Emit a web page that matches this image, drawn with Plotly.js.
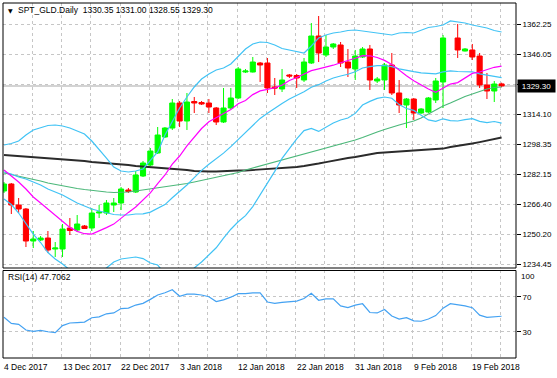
<!DOCTYPE html>
<html><head><meta charset="utf-8">
<script src="https://cdn.plot.ly/plotly-3.0.1.min.js"></script>
<style>html,body{margin:0;padding:0;background:#fff;} #chart{width:557px;height:378px;}</style>
</head><body><div id="chart"></div>
<script>
const dates = ['4 Dec 2017','5 Dec 2017','6 Dec 2017','7 Dec 2017','8 Dec 2017','10 Dec 2017','11 Dec 2017','12 Dec 2017','13 Dec 2017','14 Dec 2017',
 '15 Dec 2017','17 Dec 2017','18 Dec 2017','19 Dec 2017','20 Dec 2017','21 Dec 2017','22 Dec 2017','24 Dec 2017','26 Dec 2017','27 Dec 2017',
 '28 Dec 2017','29 Dec 2017','31 Dec 2017','2 Jan 2018','3 Jan 2018','4 Jan 2018','5 Jan 2018','7 Jan 2018','8 Jan 2018','9 Jan 2018',
 '10 Jan 2018','11 Jan 2018','12 Jan 2018','14 Jan 2018','15 Jan 2018','16 Jan 2018','17 Jan 2018','18 Jan 2018','19 Jan 2018','21 Jan 2018',
 '22 Jan 2018','23 Jan 2018','24 Jan 2018','25 Jan 2018','26 Jan 2018','28 Jan 2018','29 Jan 2018','30 Jan 2018','31 Jan 2018','1 Feb 2018',
 '2 Feb 2018','4 Feb 2018','5 Feb 2018','6 Feb 2018','7 Feb 2018','8 Feb 2018','9 Feb 2018','11 Feb 2018','12 Feb 2018','13 Feb 2018',
 '14 Feb 2018','15 Feb 2018','16 Feb 2018','18 Feb 2018','19 Feb 2018','20 Feb 2018','21 Feb 2018','22 Feb 2018','23 Feb 2018'];

const open = [1273.32,1277.05,1265.87,1263.74,1246.70,1247.23,1248.29,1242.44,1242.44,1253.62,
 1252.56,1254.69,1253.62,1261.61,1261.61,1265.87,1266.93,1273.86,1272.79,1281.31,
 1287.17,1293.56,1302.08,1306.87,1320.18,1310.60,1320.98,1320.45,1320.18,1317.52,
 1310.07,1317.52,1322.85,1336.69,1336.69,1341.48,1341.48,1328.70,1327.64,1335.09,
 1334.83,1332.43,1341.48,1355.86,1345.74,1350.00,1351.07,1342.00,1338.29,1344.68,
 1348.94,1331.90,1332.43,1340.42,1325.51,1319.12,1322.31,1314.86,1315.39,1321.78,
 1331.37,null,1354.80,1347.87,1348.41,1345.21,1329.77,1326.57,1330.35];
const high = [1278.11,1277.58,1269.59,1264.27,1252.02,1249.36,1252.02,1246.16,1255.75,1258.94,
 1260.54,1255.20,1264.27,1265.87,1268.53,1269.59,1275.45,1274.92,1283.97,1289.30,
 1296.22,1307.40,1307.40,1322.31,1321.25,1325.51,1323.38,1321.25,1322.31,1318.05,
 1328.17,1328.17,1339.35,1338.29,1344.68,1342.00,1344.15,1333.50,1338.29,1335.62,
 1335.62,1344.15,1362.78,1366.51,1356.39,1352.13,1352.67,1348.94,1348.41,1350.00,
 1351.07,1334.03,1341.48,1346.81,1332.43,1322.85,1322.85,1317.52,1323.38,1333.50,
 1356.39,null,1362.25,1349.47,1351.60,1346.81,1336.16,1331.90,1331.00];
const low = [1272.26,1261.07,1261.61,1243.50,1242.97,1246.70,1240.31,1238.18,1238.18,1249.89,
 1251.49,1253.09,1252.02,1258.94,1260.54,1262.14,1263.20,1272.26,1272.26,1280.78,
 1286.64,1293.02,1301.55,1305.81,1307.40,1305.81,1314.86,1319.12,1314.86,1308.47,
 1309.53,1316.99,1322.31,1336.16,1336.42,1331.37,1325.51,1324.44,1326.04,1333.50,
 1328.17,1331.37,1340.95,1342.00,1344.68,1348.94,1339.35,1334.03,1332.43,1344.15,
 1327.11,1330.83,1327.11,1324.44,1314.86,1306.87,1311.13,1314.33,1314.86,1320.18,
 1317.52,null,1344.15,1347.61,1343.08,1328.17,1322.31,1320.71,1328.55];
const close = [1277.05,1265.87,1263.74,1246.70,1247.76,1248.29,1241.90,1242.97,1253.09,1252.29,
 1255.75,1253.35,1261.61,1262.14,1266.93,1266.93,1274.39,1273.06,1281.84,1288.23,
 1294.62,1303.14,1306.87,1320.18,1310.60,1320.71,1320.18,1319.65,1318.05,1310.07,
 1317.52,1322.85,1338.29,1337.22,1342.00,1340.42,1328.17,1328.17,1332.43,1334.56,
 1333.50,1342.00,1355.86,1346.81,1350.00,1351.60,1341.48,1338.82,1345.21,1348.94,
 1332.43,1332.96,1340.42,1325.51,1319.12,1322.31,1314.86,1316.99,1322.85,1331.90,
 1354.80,null,1348.41,1348.94,1344.68,1329.77,1326.57,1330.30,1329.30];

const bbUpper = [1297.82,1298.62,1299.95,1303.14,1305.80,1307.14,1308.20,1308.47,1307.93,1306.87,
 1305.27,1303.67,1299.95,1295.69,1290.89,1286.10,1283.97,1283.44,1283.97,1285.04,
 1289.30,1294.09,1303.14,1310.60,1317.52,1323.38,1328.70,1332.96,1335.62,1337.75,
 1338.82,1340.95,1344.68,1348.94,1351.60,1352.66,1352.40,1351.07,1349.20,1348.40,
 1347.34,1346.81,1350.53,1354.79,1356.39,1357.46,1357.99,1358.79,1359.05,1358.52,
 1357.99,1357.46,1356.92,1356.39,1357.46,1357.72,1357.46,1359.05,1360.39,1360.92,
 1361.72,1363.85,1363.31,1362.78,1361.72,1360.92,1360.12,1358.79,1357.99];
const bbMiddle = [1283.44,1282.37,1280.78,1279.71,1278.11,1276.52,1274.39,1272.79,1271.19,1269.06,
 1266.93,1265.33,1263.74,1262.67,1261.61,1260.81,1260.54,1260.54,1261.07,1261.18,
 1262.09,1263.95,1266.08,1269.75,1272.90,1276.52,1280.46,1284.29,1287.54,1290.42,
 1293.50,1296.97,1300.80,1304.58,1308.31,1311.98,1314.70,1317.41,1319.97,1322.31,
 1324.23,1326.15,1328.60,1329.93,1331.90,1333.49,1334.56,1335.47,1336.85,1338.82,
 1339.51,1340.04,1340.15,1339.57,1338.39,1337.49,1336.85,1336.26,1335.78,1335.68,
 1336.74,1337.33,1336.96,1337.06,1336.80,1335.68,1334.93,1334.56,1333.71];
const bbLower = [1269.06,1266.13,1261.61,1256.28,1250.42,1245.90,1240.57,1237.11,1234.45,1231.25,
 1228.59,1226.99,1227.53,1229.66,1232.32,1235.51,1237.11,1237.64,1238.18,1237.33,
 1234.98,1233.92,1229.12,1228.91,1228.27,1229.66,1232.32,1235.51,1239.46,1243.08,
 1248.19,1252.98,1256.92,1260.22,1265.02,1271.30,1277.05,1283.76,1290.74,1296.22,
 1301.12,1305.49,1306.66,1305.06,1307.40,1309.53,1311.13,1312.19,1314.64,1319.12,
 1321.03,1322.63,1323.38,1322.74,1319.33,1317.25,1316.24,1313.47,1311.18,1310.44,
 1311.77,1310.81,1310.60,1311.34,1311.88,1310.44,1309.75,1310.33,1309.43];
const maFast = [1284.50,1281.31,1278.11,1274.39,1270.13,1266.93,1263.74,1260.54,1257.35,1253.94,
 1251.81,1250.58,1250.37,1251.92,1253.83,1255.70,1258.94,1261.93,1264.80,1268.42,
 1272.31,1277.26,1281.84,1287.59,1291.96,1297.34,1301.92,1306.60,1310.22,1312.41,
 1314.70,1316.67,1319.81,1321.51,1324.66,1326.63,1327.42,1328.28,1329.71,1332.16,
 1333.76,1335.68,1337.44,1338.39,1339.19,1340.31,1341.64,1342.71,1343.99,1345.42,
 1345.32,1344.41,1342.87,1340.74,1337.65,1334.72,1332.06,1329.87,1327.64,1325.93,
 1328.17,1330.25,1331.05,1333.39,1335.94,1336.69,1337.86,1339.19,1339.83];
const maMid = [1282.91,1282.11,1281.31,1280.51,1279.71,1278.65,1277.58,1276.78,1275.98,1275.19,
 1274.65,1274.12,1273.59,1273.06,1272.79,1272.52,1272.52,1272.79,1273.32,1273.85,
 1274.39,1274.92,1275.45,1275.98,1276.52,1277.32,1278.11,1278.91,1279.71,1280.51,
 1281.31,1282.11,1283.17,1284.50,1285.57,1286.63,1287.70,1288.50,1289.56,1290.63,
 1291.96,1293.02,1294.09,1295.15,1296.22,1297.28,1298.35,1299.41,1300.48,1301.81,
 1303.41,1304.74,1306.07,1307.40,1308.47,1309.53,1310.60,1312.19,1314.32,1316.45,
 1318.58,1320.18,1322.05,1323.64,1324.97,1326.31,1327.64,1328.44,1328.70];
const maSlow = [1292.49,1292.23,1291.96,1291.69,1291.43,1291.16,1290.89,1290.63,1290.36,1289.83,
 1289.56,1289.30,1288.76,1288.50,1288.23,1287.70,1287.43,1287.17,1286.63,1286.37,
 1286.10,1285.84,1285.30,1285.04,1284.77,1284.50,1283.97,1283.71,1283.71,1283.71,
 1283.97,1283.97,1284.24,1284.24,1284.50,1284.50,1284.77,1285.04,1285.30,1285.57,
 1286.10,1286.63,1287.17,1287.97,1288.76,1289.56,1290.36,1290.89,1291.43,1292.23,
 1293.02,1293.56,1293.82,1294.09,1294.36,1294.62,1294.62,1294.89,1295.15,1295.42,
 1295.95,1296.75,1297.28,1297.82,1298.62,1299.41,1300.21,1301.01,1301.81];
const rsi = [46.5,39.5,38.5,32,30.5,31.5,30,29,37,40,
 40.5,41,46,47,50.5,51.5,56.5,57,60.5,62.5,
 67,72,74.5,78,70.5,73,73,72,70,64.5,
 66.5,69.5,73.5,73.5,74.5,74.5,64,62.5,63.5,64.5,
 65,68,74,66,67.5,67.5,59.5,57.5,60.5,62,
 52,51.5,55.5,48,44.5,46,42.5,42,44.5,48.5,
 57,62,61,59.5,57.5,49,46.5,47.5,47.7062];

const priceTickVals = [1234.45,1250.20,1266.40,1282.15,1298.35,1314.10,1330.15,1346.05,1362.25];
const priceTickText = ['1234.45','1250.20','1266.40','1282.15','1298.35','1314.10','','1346.05','1362.25'];
const rsiTickVals = [30,70];
const rsiTickText = ['30','70'];
const dateLabelIdx = [0,8,16,24,32,40,48,56,64];
const symbol = 'SPT_GLD,Daily';
const lastBar = {o:'1330.35', h:'1331.00', l:'1328.55', c:'1329.30'};
const rsiLabel = 'RSI(14) 47.7062';

const FONT = 'Liberation Sans, Arial, sans-serif';
const xs = dates.map((d,i)=>i);
const GRID = '#c6c6c6';
const BLUE = '#41c3f5';
const X_MIN = -0.137;

const lineTrace = (y, color, width, yaxis) => ({type:'scatter', mode:'lines', x:xs, y:y, xaxis:'x', yaxis:yaxis||'y',
  line:{color:color, width:width}, hoverinfo:'skip', showlegend:false});

const traces = [
  {type:'candlestick', x:xs, open:open, high:high, low:low, close:close, xaxis:'x', yaxis:'y',
   increasing:{line:{color:'#00ff00', width:1}, fillcolor:'#00ff00'},
   decreasing:{line:{color:'#ff0000', width:1}, fillcolor:'#ff0000'},
   whiskerwidth:0, hoverinfo:'skip', showlegend:false},
  lineTrace(maSlow, '#2b2b2b', 1.8),
  lineTrace(maMid, '#4cb87a', 1.2),
  lineTrace(bbUpper, BLUE, 1.2),
  lineTrace(bbMiddle, BLUE, 1.2),
  lineTrace(bbLower, BLUE, 1.2),
  lineTrace(maFast, '#ff00ff', 1.2),
  lineTrace(rsi, '#44a2f2', 1.2, 'y2')
];

const gridVals = [];
for (let k = 1; k * 4 < dates.length + 1; k++) gridVals.push(k * 4 - 0.14);

const annotations = [
  {xref:'paper', yref:'paper', x:0, y:1, xanchor:'left', yanchor:'middle', xshift:3, yshift:-7,
   text:'\u25BC', showarrow:false, font:{family:'DejaVu Sans', size:6, color:'#000'}},
  {xref:'paper', yref:'paper', x:0, y:1, xanchor:'left', yanchor:'middle', xshift:13, yshift:-7,
   text: symbol.replace(',', '.') + '\u00a0\u00a0' + [lastBar.o,lastBar.h,lastBar.l,lastBar.c].join(' '),
   showarrow:false, font:{family:FONT, size:8.5, color:'#000'}},
  {xref:'paper', yref:'y2 domain', x:0, y:1, xanchor:'left', yanchor:'middle', xshift:3, yshift:-7,
   text: rsiLabel, showarrow:false, font:{family:FONT, size:8.5, color:'#000'}},
  {xref:'paper', yref:'y2 domain', x:1, y:1, xanchor:'left', yanchor:'middle', xshift:3, yshift:-6,
   text:'100', showarrow:false, font:{family:FONT, size:8, color:'#000'}},
  {xref:'paper', yref:'y', x:1, y:1329.30, xanchor:'left', yanchor:'middle', xshift:1,
   text: lastBar.c, showarrow:false, bgcolor:'#000', borderpad:1, width:35, height:10,
   font:{family:FONT, size:8, color:'#fff'}}
];
dateLabelIdx.forEach(i => annotations.push({
  xref:'x', yref:'paper', x:Math.max(i - 0.14, X_MIN + 0.001), y:0, xanchor:'left', yanchor:'middle', yshift:-9, xshift:-1,
  text: dates[i], showarrow:false, font:{family:FONT, size:8.5, color:'#000'}
}));

const shapes = [
  {type:'line', xref:'paper', yref:'y', x0:0, x1:1, y0:1329.30, y1:1329.30, layer:'between',
   line:{color:'#c4c4c4', width:1.5}},
  {type:'rect', xref:'paper', yref:'y domain', x0:0, x1:1, y0:0, y1:1, line:{color:'#000', width:1}},
  {type:'rect', xref:'paper', yref:'y2 domain', x0:0, x1:1, y0:0, y1:1, line:{color:'#000', width:1}}
];

const layout = {
  width:557, height:378,
  margin:{l:3, r:41, t:3, b:20, pad:0},
  paper_bgcolor:'#fff', plot_bgcolor:'#fff',
  showlegend:false,
  boxgap:0.3, boxgroupgap:0,
  xaxis:{domain:[0,1], range:[X_MIN, 69.97], anchor:'y2', tickvals:gridVals, showticklabels:false, ticks:'',
    showgrid:true, gridcolor:GRID, griddash:'3px,3px', gridwidth:1, zeroline:false, showline:false,
    rangeslider:{visible:false}, fixedrange:true},
  yaxis:{domain:[0.2535,1], range:[1232.32,1373.43], side:'right', anchor:'x',
    tickvals:priceTickVals, ticktext:priceTickText, ticks:'outside', ticklen:4, tickcolor:'#000', tickwidth:1,
    tickfont:{family:FONT, size:8, color:'#000'}, showgrid:true, gridcolor:GRID, griddash:'3px,3px', gridwidth:1,
    zeroline:false, showline:false, fixedrange:true},
  yaxis2:{domain:[0,0.2465], range:[0,100], side:'right', anchor:'x',
    tickvals:rsiTickVals, ticktext:rsiTickText, ticks:'outside', ticklen:4, tickcolor:'#000', tickwidth:1,
    tickfont:{family:FONT, size:8, color:'#000'}, showgrid:true, gridcolor:GRID, griddash:'3px,3px', gridwidth:1,
    zeroline:false, showline:false, fixedrange:true},
  annotations:annotations,
  shapes:shapes
};

Plotly.newPlot('chart', traces, layout, {staticPlot:true, displayModeBar:false});
</script>
</body></html>
